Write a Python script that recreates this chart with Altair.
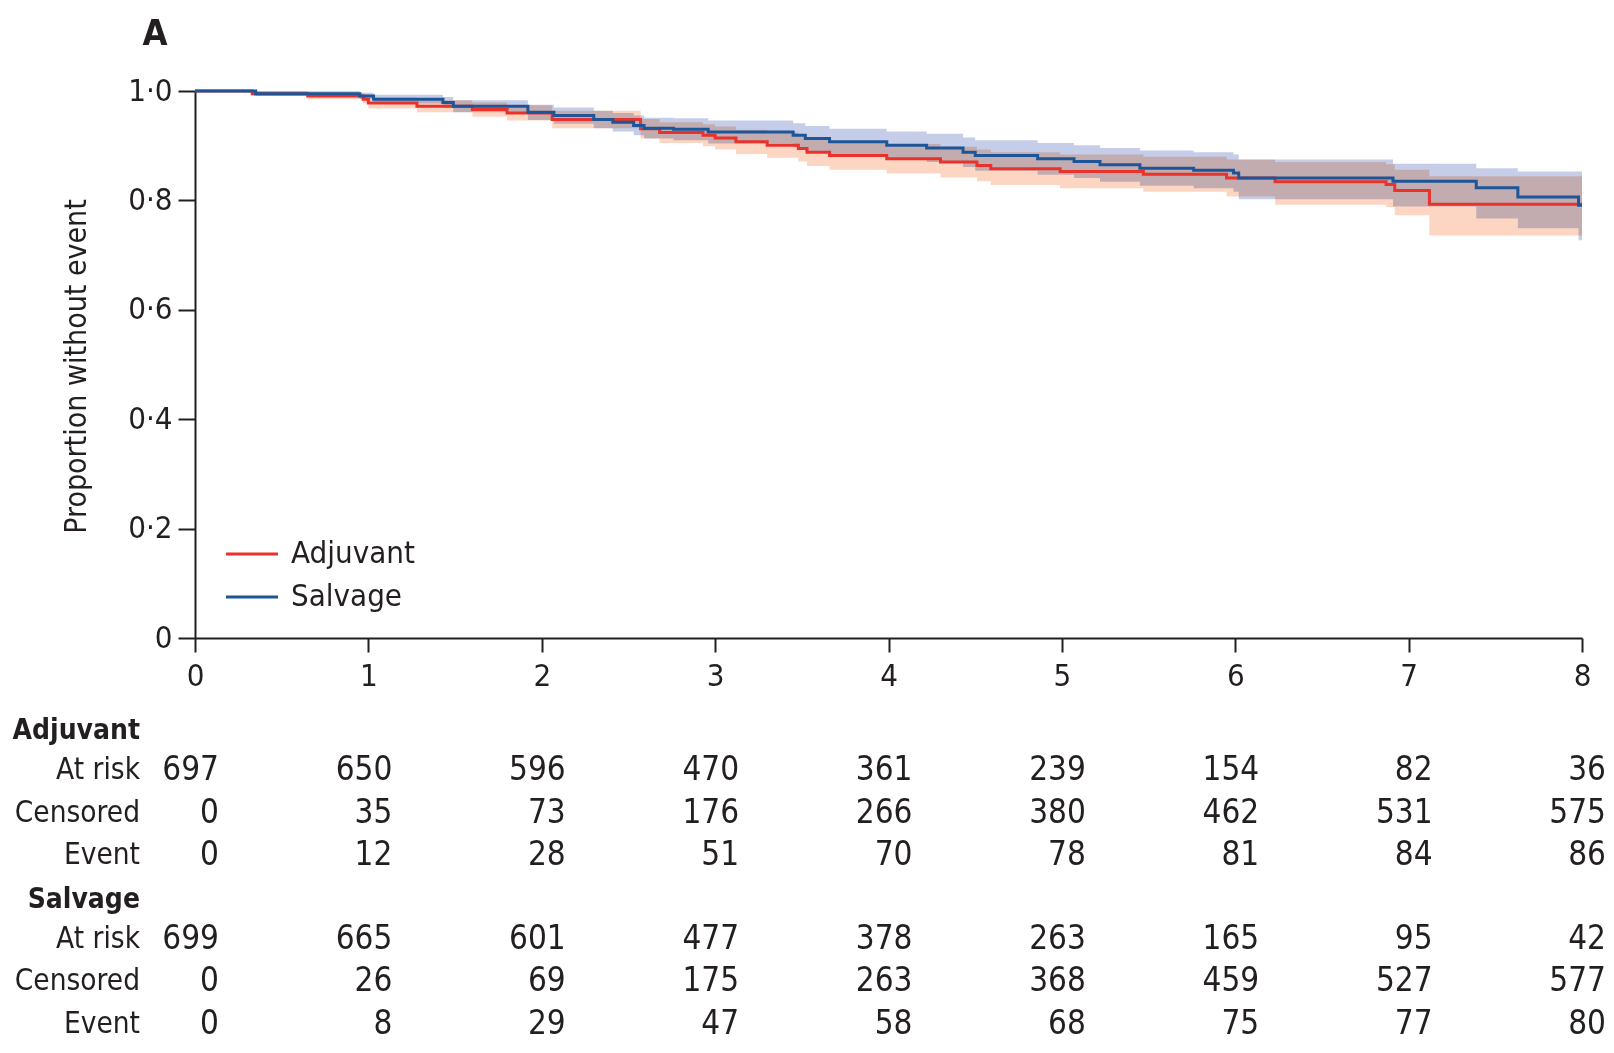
import altair as alt
import pandas as pd

# Kaplan-Meier estimates: time (years), proportion without event, 95% CI
adj_time = [0, 0.33, 0.65, 0.97, 1.00, 1.28, 1.60, 1.80, 2.06, 2.57,
            2.68, 2.93, 3.00, 3.12, 3.30, 3.48, 3.53, 3.66, 3.99, 4.30,
            4.51, 4.59, 4.99, 5.47, 5.95, 6.23, 6.87, 6.92, 7.12, 8.0]
adj_surv = [1.0, 0.995, 0.991, 0.985, 0.978, 0.972, 0.966, 0.960, 0.948, 0.931,
            0.924, 0.919, 0.914, 0.907, 0.901, 0.895, 0.888, 0.882, 0.876, 0.870,
            0.864, 0.858, 0.853, 0.848, 0.841, 0.834, 0.829, 0.818, 0.793, 0.793]
adj_lower = [1.0, 0.991, 0.985, 0.977, 0.968, 0.961, 0.953, 0.946, 0.932, 0.913,
             0.905, 0.899, 0.893, 0.885, 0.878, 0.871, 0.863, 0.856, 0.849, 0.842,
             0.835, 0.828, 0.822, 0.816, 0.807, 0.792, 0.788, 0.773, 0.736, 0.736]
adj_upper = [1.0, 1.0, 0.997, 0.993, 0.988, 0.983, 0.979, 0.974, 0.964, 0.949,
             0.943, 0.939, 0.935, 0.929, 0.924, 0.919, 0.913, 0.908, 0.903, 0.898,
             0.893, 0.888, 0.884, 0.880, 0.875, 0.870, 0.866, 0.856, 0.844, 0.844]

sal_time = [0, 0.35, 0.95, 1.03, 1.43, 1.49, 1.92, 2.07, 2.30, 2.41,
            2.53, 2.59, 2.76, 2.96, 3.45, 3.52, 3.66, 3.99, 4.22, 4.43,
            4.50, 4.86, 5.07, 5.22, 5.45, 5.76, 5.99, 6.02, 6.91, 7.39,
            7.63, 7.98, 8.0]
sal_surv = [1.0, 0.995, 0.991, 0.985, 0.979, 0.972, 0.961, 0.955, 0.948, 0.943,
            0.937, 0.932, 0.930, 0.925, 0.919, 0.913, 0.907, 0.901, 0.896, 0.888,
            0.882, 0.876, 0.871, 0.865, 0.859, 0.855, 0.850, 0.841, 0.835, 0.823,
            0.806, 0.791, 0.791]
sal_lower = [1.0, 0.991, 0.985, 0.977, 0.969, 0.961, 0.947, 0.940, 0.932, 0.926,
             0.919, 0.913, 0.910, 0.904, 0.897, 0.890, 0.883, 0.876, 0.870, 0.861,
             0.854, 0.847, 0.841, 0.834, 0.827, 0.822, 0.816, 0.802, 0.789, 0.767,
             0.749, 0.727, 0.727]
sal_upper = [1.0, 1.0, 0.997, 0.993, 0.989, 0.983, 0.975, 0.970, 0.964, 0.960,
             0.955, 0.951, 0.950, 0.946, 0.941, 0.936, 0.931, 0.926, 0.922, 0.915,
             0.910, 0.905, 0.901, 0.896, 0.891, 0.888, 0.884, 0.875, 0.867, 0.859,
             0.853, 0.853, 0.853]

# Numbers-at-risk table
table_years = [0, 1, 2, 3, 4, 5, 6, 7, 8]
adj_at_risk = [697, 650, 596, 470, 361, 239, 154, 82, 36]
adj_censored = [0, 35, 73, 176, 266, 380, 462, 531, 575]
adj_event = [0, 12, 28, 51, 70, 78, 81, 84, 86]
sal_at_risk = [699, 665, 601, 477, 378, 263, 165, 95, 42]
sal_censored = [0, 26, 69, 175, 263, 368, 459, 527, 577]
sal_event = [0, 8, 29, 47, 58, 68, 75, 77, 80]

RED = "#e8322b"
BLUE = "#1c5598"
RED_BAND = "#fcd6c2"
BLUE_BAND = "#c6cde8"
INK = "#231f20"
FONT = "Liberation Sans Narrow, DejaVu Sans Condensed, Liberation Sans, sans-serif"

W, H = 1387, 547

adj = pd.DataFrame({"time": adj_time, "surv": adj_surv, "lower": adj_lower, "upper": adj_upper})
sal = pd.DataFrame({"time": sal_time, "surv": sal_surv, "lower": sal_lower, "upper": sal_upper})

x_scale = alt.Scale(domain=[0, 8], nice=False, zero=False)
y_scale = alt.Scale(domain=[0, 1], nice=False)

x_axis = alt.Axis(values=table_years, format="d", title=None, grid=False, labelFlush=False,
                  tickSize=14, labelPadding=9, labelFontSize=31)
y_axis = alt.Axis(values=[0, 0.2, 0.4, 0.6, 0.8, 1.0], title=None, grid=False,
                  tickSize=17, labelPadding=6, labelFontSize=31,
                  labelExpr="datum.value == 0 ? '0' : replace(format(datum.value, '.1f'), '.', '·')")


def band(df, color):
    return alt.Chart(df).mark_area(interpolate="step-after", color=color, opacity=1,
                                   blend="multiply").encode(
        x=alt.X("time:Q", scale=x_scale, axis=x_axis),
        y=alt.Y("lower:Q", scale=y_scale, axis=y_axis),
        y2="upper:Q",
    )


def curve(df, color):
    return alt.Chart(df).mark_line(interpolate="step-after", color=color, strokeWidth=3).encode(
        x=alt.X("time:Q", scale=x_scale, axis=x_axis),
        y=alt.Y("surv:Q", scale=y_scale, axis=y_axis),
    )


# Legend inside the plot
legend_df = pd.DataFrame({"label": ["Adjuvant", "Salvage"], "color": [RED, BLUE], "ypix": [463, 506]})
legend_lines = alt.Chart(legend_df).mark_rule(strokeWidth=3).encode(
    x=alt.value(31), x2=alt.value(83), y=alt.Y("ypix:Q", scale=None),
    color=alt.Color("color:N", scale=None),
)
legend_text = alt.Chart(legend_df).mark_text(align="left", baseline="middle", fontSize=31,
                                             font=FONT, color=INK).encode(
    x=alt.value(96), y=alt.Y("ypix:Q", scale=None), text="label:N",
)

# Numbers-at-risk table below the x axis
rows = [
    ("Adjuvant", "At risk", adj_at_risk, 679),
    ("Adjuvant", "Censored", adj_censored, 722),
    ("Adjuvant", "Event", adj_event, 764),
    ("Salvage", "At risk", sal_at_risk, 848),
    ("Salvage", "Censored", sal_censored, 890),
    ("Salvage", "Event", sal_event, 933),
]
num_records = []
label_records = []
for group, name, values, ypix in rows:
    label_records.append({"text": name, "ypix": ypix})
    for yr, v in zip(table_years, values):
        num_records.append({"time": yr, "text": str(v), "ypix": ypix})
num_df = pd.DataFrame(num_records)
lab_df = pd.DataFrame(label_records)
head_df = pd.DataFrame({"text": ["Adjuvant", "Salvage"], "ypix": [640, 809]})

numbers = alt.Chart(num_df).mark_text(align="right", baseline="middle", dx=24, fontSize=33,
                                      font=FONT, color=INK).encode(
    x=alt.X("time:Q", scale=x_scale, axis=x_axis),
    y=alt.Y("ypix:Q", scale=None), text="text:N",
)
row_labels = alt.Chart(lab_df).mark_text(align="right", baseline="middle", fontSize=29.5,
                                         font=FONT, color=INK).encode(
    x=alt.value(-55), y=alt.Y("ypix:Q", scale=None), text="text:N",
)
headers = alt.Chart(head_df).mark_text(align="right", baseline="middle", fontSize=28,
                                       fontWeight="bold", font=FONT, color=INK).encode(
    x=alt.value(-55), y=alt.Y("ypix:Q", scale=None), text="text:N",
)

# Panel letter and y-axis title
panel_df = pd.DataFrame({"text": ["A"]})
panel = alt.Chart(panel_df).mark_text(align="center", baseline="middle", fontSize=36,
                                      fontWeight="bold", font=FONT, color=INK).encode(
    x=alt.value(-40), y=alt.value(-57), text="text:N",
)
ytitle_df = pd.DataFrame({"text": ["Proportion without event"]})
ytitle = alt.Chart(ytitle_df).mark_text(align="center", baseline="middle", fontSize=30, angle=270,
                                        font=FONT, color=INK).encode(
    x=alt.value(-118), y=alt.value(H / 2 + 2), text="text:N",
)

chart = alt.layer(
    band(sal, BLUE_BAND),
    band(adj, RED_BAND),
    curve(adj, RED),
    curve(sal, BLUE),
    legend_lines, legend_text,
    numbers, row_labels, headers, panel, ytitle,
).properties(
    width=W, height=H,
    autosize=alt.AutoSizeParams(type="none"),
    padding={"left": 195, "top": 91, "right": 32, "bottom": 415},
).configure_view(
    stroke=None,
).configure_axis(
    domainColor=INK, domainWidth=2, tickColor=INK, tickWidth=2,
    labelColor=INK, labelFont=FONT,
)

chart.save("out.html", embed_options={"renderer": "svg", "actions": False})
